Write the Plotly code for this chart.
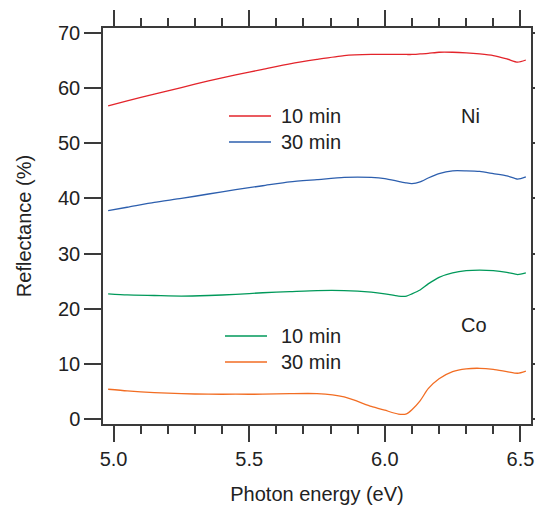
import plotly.graph_objects as go

# Photon energy (eV) sample points
energy = [4.98, 5.05, 5.15, 5.25, 5.35, 5.45, 5.55, 5.65, 5.75, 5.85, 5.95, 6.00, 6.05,
          6.08, 6.10, 6.13, 6.16, 6.20, 6.25, 6.30, 6.35, 6.40, 6.45, 6.49, 6.52]

# Reflectance (%)
ni_10 = [56.8, 57.7, 58.9, 60.1, 61.3, 62.4, 63.4, 64.4, 65.2, 65.9, 66.1, 66.1, 66.1,
         66.1, 66.1, 66.2, 66.3, 66.5, 66.5, 66.4, 66.2, 65.9, 65.3, 64.7, 65.1]
ni_30 = [37.8, 38.4, 39.3, 40.0, 40.8, 41.6, 42.3, 43.0, 43.4, 43.8, 43.8, 43.6, 43.1,
         42.8, 42.7, 43.0, 43.7, 44.5, 45.0, 45.0, 44.9, 44.5, 44.1, 43.5, 43.9]
co_10 = [22.7, 22.5, 22.4, 22.3, 22.4, 22.6, 22.9, 23.1, 23.3, 23.3, 23.0, 22.7, 22.3,
         22.3, 22.7, 23.4, 24.5, 25.7, 26.5, 26.9, 27.0, 26.9, 26.6, 26.2, 26.5]
co_30 = [5.4, 5.1, 4.8, 4.6, 4.5, 4.5, 4.5, 4.6, 4.6, 4.0, 2.3, 1.6, 0.9,
         0.95, 1.7, 3.3, 5.5, 7.3, 8.6, 9.1, 9.2, 9.0, 8.6, 8.3, 8.7]

x_ticks = [5.0, 5.5, 6.0, 6.5]
x_tick_labels = ["5.0", "5.5", "6.0", "6.5"]
y_ticks = [0, 10, 20, 30, 40, 50, 60, 70]

legend_labels = ["10 min", "30 min"]
metals = ["Ni", "Co"]

RED = "#e3242b"
BLUE = "#2d5fae"
GREEN = "#00995a"
ORANGE = "#f26d23"

FONT = "Liberation Sans, Arial, Helvetica, sans-serif"
AX = "#3a3a3a"
FS = 20

fig = go.Figure()
for y, c in [(ni_10, RED), (ni_30, BLUE), (co_10, GREEN), (co_30, ORANGE)]:
    fig.add_trace(go.Scatter(x=energy, y=y, mode="lines",
                             line=dict(color=c, width=1.3, shape="spline", smoothing=0.6),
                             showlegend=False, hoverinfo="skip"))

# page body has an 8px margin, so the figure is sized/offset to compensate
OFF = 8
W, H = 543 - OFF, 505 - OFF
L, R, T, B = 103 - OFF, 12, 28 - OFF, 81
pw, ph = W - L - R, H - T - B


def px2paper(px, py):
    # px, py in window pixels
    return (px - OFF - L) / pw, 1 - (py - OFF - T) / ph


# in-plot legends drawn as line samples + labels
legend_groups = [
    (229, 271, [116, 142], [RED, BLUE], metals[0], (459, 116)),
    (225, 267, [336, 362], [GREEN, ORANGE], metals[1], (459, 325)),
]
for x0, x1, ys, cols, metal, (mx, my) in legend_groups:
    for yy, col, lab in zip(ys, cols, legend_labels):
        a0, b0 = px2paper(x0, yy)
        a1, _ = px2paper(x1, yy)
        fig.add_shape(type="line", xref="paper", yref="paper", x0=a0, x1=a1, y0=b0, y1=b0,
                      line=dict(color=col, width=1.3))
        ta, tb = px2paper(279, yy)
        fig.add_annotation(xref="paper", yref="paper", x=ta, y=tb, text=lab, showarrow=False,
                           xanchor="left", yanchor="middle",
                           font=dict(family=FONT, size=FS, color="#222"))
    ma, mb = px2paper(mx, my)
    fig.add_annotation(xref="paper", yref="paper", x=ma, y=mb, text=metal, showarrow=False,
                       xanchor="left", yanchor="middle",
                       font=dict(family=FONT, size=FS, color="#222"))

fig.update_layout(
    width=W, height=H,
    margin=dict(l=L, r=R, t=T, b=B, pad=0, autoexpand=False),
    paper_bgcolor="white", plot_bgcolor="white",
    font=dict(family=FONT, size=FS, color="#222"),
    xaxis=dict(range=[4.961, 6.539], tickvals=x_ticks, ticktext=x_tick_labels,
               automargin=False,
               ticks="outside", ticklen=16, tickwidth=1.5, tickcolor=AX,
               showline=True, linecolor=AX, linewidth=1.5, mirror="ticks",
               showgrid=False, zeroline=False,
               minor=dict(dtick=0.1, tick0=5.0, ticks="outside", ticklen=8, tickwidth=1.5,
                          tickcolor=AX, showgrid=False),
               tickfont=dict(size=FS),
               title=dict(text="Photon energy (eV)", font=dict(size=FS), standoff=18)),
    yaxis=dict(range=[-0.9, 70.9], tickvals=y_ticks,
               automargin=False,
               ticks="outside", ticklen=17, tickwidth=1.5, tickcolor=AX,
               showline=True, linecolor=AX, linewidth=1.5, mirror="ticks",
               showgrid=False, zeroline=False,
               tickfont=dict(size=FS),
               title=dict(text="Reflectance (%)", font=dict(size=FS), standoff=21)),
)

fig.write_html("out.html")
